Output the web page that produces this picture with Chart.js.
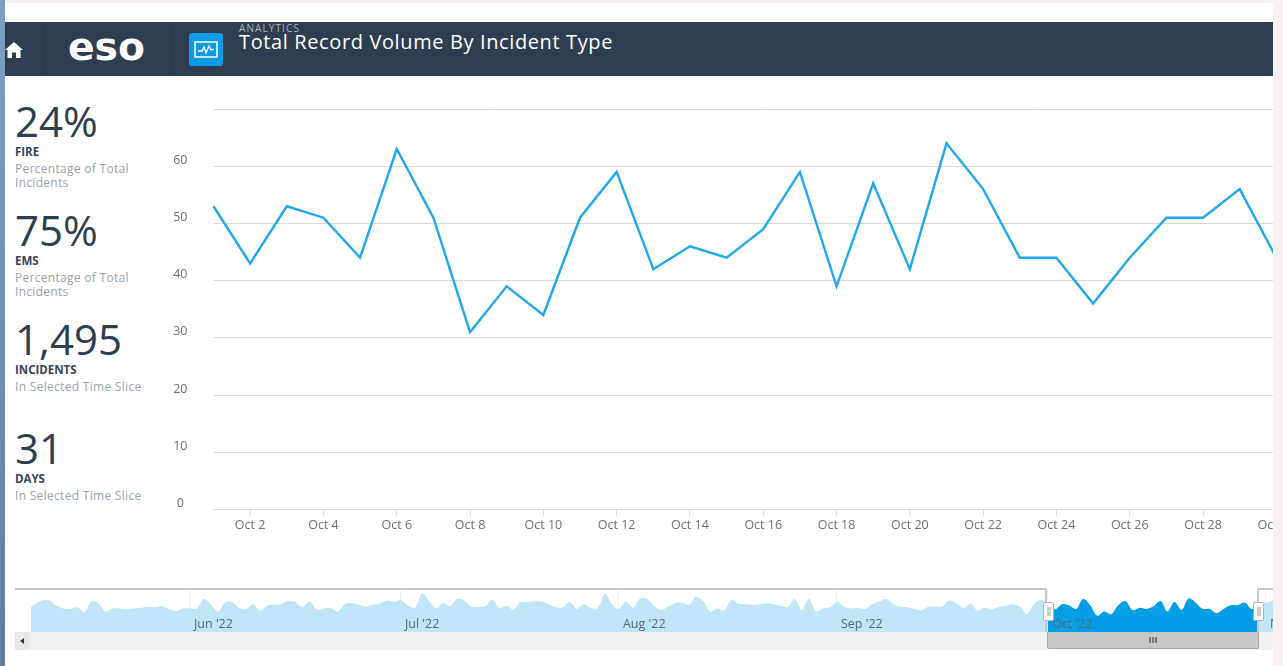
<!DOCTYPE html>
<html><head><meta charset="utf-8">
<script src="https://cdn.jsdelivr.net/npm/chart.js@4"></script>
<style>
html,body{margin:0;padding:0;background:#fff;width:1283px;height:666px;overflow:hidden;font-family:"Open Sans",sans-serif}
.a{position:absolute;white-space:nowrap}
.big{left:15px;font-size:42px;line-height:50px;color:#2d3e50}
.lab{left:15px;font-size:11.5px;line-height:14px;font-weight:700;color:#34465a}
.sub{left:15px;font-size:12px;line-height:14px;letter-spacing:.3px;color:#98a2ac}
</style></head><body>
<div class="a" style="left:0;top:0;width:1283px;height:3px;background:#f7f0f1"></div>
<div class="a" style="left:0;top:0;width:5px;height:666px;background:linear-gradient(#7d9fc6,#5f7fa6)"></div>
<div class="a" style="left:1273px;top:0;width:10px;height:666px;background:#f8f0f2"></div>
<div class="a" style="left:5px;top:22px;width:1268px;height:54px;background:#2e3e50"></div>
<div class="a" style="left:44px;top:22px;width:1px;height:54px;background:#293849"></div>
<div class="a" style="left:171px;top:22px;width:1px;height:54px;background:#293849"></div>
<svg class="a" style="left:5px;top:41px" width="18" height="18" viewBox="0 0 18 18"><path d="M0 9 L9 1 L18 9 L15.500 9 L15.500 17 L11 17 L11 11.500 L7 11.500 L7 17 L2.500 17 L2.500 9Z" fill="#fff"/></svg>
<div class="a" id="logo" style="left:68px;top:26px;font-family:'DejaVu Sans';font-weight:700;font-size:37px;line-height:44px;color:#fff;transform-origin:0 50%;transform:scaleX(1.06)">eso</div>
<svg class="a" style="left:189px;top:33px" width="34" height="33" viewBox="0 0 34 33"><rect width="34" height="33" rx="3" fill="#0b9be6"/><rect x="6" y="9" width="22" height="15" fill="none" stroke="#fff" stroke-width="1.500"/><path d="M9 18 L13 18 L15 14 L17 20 L20 13 L22 17 L25 16" fill="none" stroke="#fff" stroke-width="1.300"/></svg>
<div class="a" style="left:239px;top:22px;font-size:10px;line-height:13px;letter-spacing:1.1px;color:#a9b4c0">ANALYTICS</div>
<div class="a" style="left:239px;top:28px;font-size:20px;line-height:28px;letter-spacing:.62px;color:#fff">Total Record Volume By Incident Type</div>

<div class="a big" style="top:96px">24%</div>
<div class="a lab" style="top:145px">FIRE</div>
<div class="a sub" style="top:162px">Percentage of Total</div>
<div class="a sub" style="top:176px">Incidents</div>
<div class="a big" style="top:205px">75%</div>
<div class="a lab" style="top:254px">EMS</div>
<div class="a sub" style="top:271px">Percentage of Total</div>
<div class="a sub" style="top:285px">Incidents</div>
<div class="a big" style="top:314px">1,495</div>
<div class="a lab" style="top:363px">INCIDENTS</div>
<div class="a sub" style="top:380px">In Selected Time Slice</div>
<div class="a big" style="top:423px">31</div>
<div class="a lab" style="top:472px">DAYS</div>
<div class="a sub" style="top:489px">In Selected Time Slice</div>

<div class="a" style="left:150px;top:100px;width:1123px;height:440px;overflow:hidden"><canvas id="main" width="1163" height="440" style="display:block"></canvas></div>
<div class="a" style="left:31px;top:589px;width:1242px;height:43px"><canvas id="nav" width="1242" height="43" style="display:block"></canvas></div>

<div class="a" style="left:15px;top:632px;width:1258px;height:18px;background:#f1f1f1"></div>
<div class="a" style="left:15px;top:632px;width:15px;height:18px;background:#e9e9e9"></div>
<div class="a" style="left:20px;top:638px;width:0;height:0;border:3px solid transparent;border-right:4px solid #333;border-left:0"></div>
<div class="a" style="left:15px;top:588px;width:1032px;height:44px;border-top:2px solid #c8c8c8;border-right:2px solid #c8c8c8;border-top-right-radius:2px;box-sizing:border-box"></div>
<div class="a" style="left:1257px;top:588px;width:16px;height:44px;border-top:2px solid #c8c8c8;border-left:2px solid #c8c8c8;border-top-left-radius:2px;box-sizing:border-box"></div>
<div class="a" style="left:1047px;top:632px;width:212px;height:17px;background:#c8c8c8;border:1px solid #a8a8a8;border-top:0;box-sizing:border-box;border-radius:0 0 2px 2px;text-align:center;font-size:9px;line-height:15px;font-weight:700;color:#555">III</div>
<div class="a" style="left:1043px;top:602px;width:9px;height:17px;background:#fff;border:1px solid #b5b5b5;border-radius:2px;box-sizing:content-box"><div style="margin:4px 2.500px;width:4px;height:9px;background:#ccc"></div></div>
<div class="a" style="left:1253px;top:602px;width:9px;height:17px;background:#fff;border:1px solid #b5b5b5;border-radius:2px;box-sizing:content-box"><div style="margin:4px 2.500px;width:4px;height:9px;background:#ccc"></div></div>

<script>
const octoberDays = ["Oct 1","Oct 2","Oct 3","Oct 4","Oct 5","Oct 6","Oct 7","Oct 8","Oct 9","Oct 10","Oct 11","Oct 12","Oct 13","Oct 14","Oct 15","Oct 16","Oct 17","Oct 18","Oct 19","Oct 20","Oct 21","Oct 22","Oct 23","Oct 24","Oct 25","Oct 26","Oct 27","Oct 28","Oct 29","Oct 30","Oct 31"];
const octoberValues = [53,43,53,51,44,63,51,31,39,34,51,59,42,46,44,49,59,39,57,42,64,56,44,44,36,44,51,51,56,44,55];
const yTickLabels = ["0","10","20","30","40","50","60",""];

const mayValues = [44,53,60,60,50,45,44,47,38,58,55,39,45,45,44,45,46,48,47,49,44,40,45];
const juneValues = [45,45,63,52,39,56,57,46,44,53,40,50,52,53,59,57,48,58,43,45,46,39,53,55,52,48,52,54,60,57];
const julyValues = [61,50,46,74,59,45,55,49,63,60,48,48,49,62,46,50,43,57,57,58,58,53,47,47,57,44,53,46,46,74,53];
const augustValues = [44,58,46,64,63,50,42,48,55,56,52,67,58,39,45,41,61,54,53,52,53,55,53,50,48,63,42,63,39,45,47];
const septemberValues = [57,48,45,46,44,53,58,63,53,48,47,44,41,48,48,49,60,55,46,54,41,46,43,48,50,53,48,34,53,61];
const novemberValues = [56,60];
const navMonthLabels = ["Jun '22","Jul '22","Aug '22","Sep '22","Oct '22","Nov '22"];
const navMonthDays = [0,30,61,92,122,153];
const navFirstDay = -23;
const beforeOctober = mayValues.concat(juneValues,julyValues,augustValues,septemberValues);

const FONT = '"Open Sans"';
function noScalePadding(s){s.paddingTop=0;s.paddingBottom=0;s.paddingLeft=0;s.paddingRight=0;}
new Chart(document.getElementById('main'),{
  type:'line',
  data:{labels:octoberDays,datasets:[{data:octoberValues,borderColor:'#1fa8f0',borderWidth:2.4,pointRadius:0,tension:0,fill:false,clip:false}]},
  options:{
    responsive:false,animation:false,
    layout:{autoPadding:false,padding:{top:9,right:0,left:0,bottom:0}},
    plugins:{legend:{display:false},tooltip:{enabled:false},title:{display:false}},
    scales:{
      x:{type:'category',offset:false,
        border:{color:'#d6dbe8',width:1},
        grid:{drawOnChartArea:false,drawTicks:true,tickLength:6,tickColor:c=>c.index%2===1?'#d6dbe8':'rgba(0,0,0,0)'},
        ticks:{autoSkip:false,maxRotation:0,minRotation:0,padding:2,color:'#6b6f76',font:{family:FONT,size:12.5},
          callback(v,i){return i%2===1?octoberDays[i]:'';}},
        afterFit(s){s.height=30.5;noScalePadding(s);}
      },
      y:{type:'linear',min:0,max:70,
        border:{display:false},
        grid:{color:'#d9d9d9',lineWidth:1,drawTicks:false},
        ticks:{stepSize:10,padding:26,crossAlign:'center',labelOffset:-6,color:'#6b6f76',font:{family:FONT,size:12.5},
          callback(v){return yTickLabels[v/10];}},
        afterFit(s){s.width=63.5;noScalePadding(s);}
      }
    }
  }
});

new Chart(document.getElementById('nav'),{
  type:'line',
  data:{datasets:[
    {data:octoberValues.map((v,i)=>({x:122+i,y:v})),
     backgroundColor:'#049ee6',borderWidth:0,pointRadius:0,tension:.35,fill:'origin'},
    {data:beforeOctober.map((v,i)=>({x:navFirstDay+i,y:v})).concat(octoberValues.map((v,i)=>({x:122+i,y:v})),novemberValues.map((v,i)=>({x:153+i,y:v}))),
     backgroundColor:'#bfe5f7',borderWidth:0,pointRadius:0,tension:.35,fill:'origin'}
  ]},
  options:{
    responsive:false,animation:false,parsing:false,
    layout:{autoPadding:false,padding:0},
    plugins:{legend:{display:false},tooltip:{enabled:false}},
    scales:{
      x:{type:'linear',min:-22.6,max:154,
        border:{display:false},
        grid:{color:'#eef1f5',drawTicks:false},
        afterBuildTicks(s){s.ticks=navMonthDays.map(v=>({value:v}));},
        ticks:{autoSkip:false,maxRotation:0,minRotation:0,align:'start',mirror:true,labelOffset:4,padding:0,z:1,color:'#5c6570',font:{family:FONT,size:12.5},
          callback(v){return navMonthLabels[navMonthDays.indexOf(v)];}},
        afterFit(s){s.height=0;noScalePadding(s);}
      },
      y:{type:'linear',min:0,max:82,display:false}
    }
  }
});
</script>
</body></html>
